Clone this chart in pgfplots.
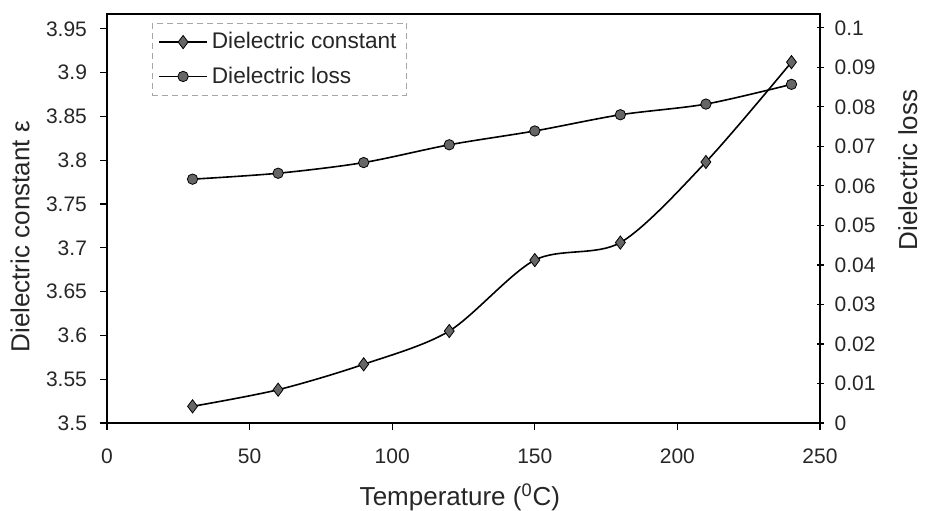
\documentclass[border=0pt]{standalone}
\usepackage{fontspec}
\setmainfont{Liberation Sans}
\usepackage{pgfplots}
\pgfplotsset{compat=1.18}
\usetikzlibrary{calc}

% dielectric constant (left axis) and dielectric loss (right axis) vs temperature
\pgfplotstableread{
T    eps
30   3.519
60   3.538
90   3.567
120  3.605
150  3.686
180  3.706
210  3.798
240  3.912
}\constdata
\pgfplotstableread{
T    loss
30   0.0617
60   0.0632
90   0.0659
120  0.0704
150  0.0739
180  0.0780
210  0.0807
240  0.0857
}\lossdata

\pgfplotsset{
  base/.style={
    width=356.5pt, height=204.5pt, scale only axis,
    xmin=0, xmax=250,
    /pgf/number format/assume math mode=true,
    tick label style={font=\fontsize{10.5}{12}\selectfont, text=black!85},
    label style={font=\fontsize{13}{15}\selectfont, text=black!85},
    major tick length=3.5pt,
    tick style={black, line width=0.6pt},
    axis line style={black, line width=0.8pt},
    scaled y ticks=false,
    yticklabel style={/pgf/number format/fixed, /pgf/number format/precision=2},
  },
  curve/.style={black, line width=0.8pt, smooth,
    mark options={solid, fill=black!60, draw=black, line width=0.4pt}},
  constsym/.style={curve, mark=diamond*, mark size=3.3pt},
  losssym/.style={curve, mark=*, mark size=2.6pt},
}

\begin{document}
\begin{tikzpicture}
\begin{axis}[base,
  ymin=3.5, ymax=3.967,
  ytick={3.5,3.55,3.6,3.65,3.7,3.75,3.8,3.85,3.9,3.95},
  xtick={0,50,100,150,200,250},
  xtick pos=bottom, ytick pos=left,
  tick align=outside,
  xticklabel style={yshift=-6pt},
  yticklabel style={xshift=-3pt},
  xlabel={Temperature (\textsuperscript{0}C)},
  ylabel={Dielectric constant ε},
  x label style={at={(axis description cs:0.495,-0.181)}, anchor=center},
  y label style={at={(axis description cs:-0.122,0.455)}, anchor=center},
  legend style={at={(rel axis cs:0.063,0.978)}, anchor=north west,
    draw=gray!70, densely dashed, fill=white,
    font=\fontsize{11.3}{13}\selectfont, text=black!85,
    inner xsep=3pt, inner ysep=2.5pt, row sep=3.5pt},
  legend cell align=left,
  legend image code/.code={\draw[mark repeat=2, mark phase=2, solid]
    plot coordinates {(0pt,0pt) (12pt,0pt) (24pt,0pt)};},
]
\coordinate (bl) at (rel axis cs:0,0);
\coordinate (tr) at (rel axis cs:1,1);
\addplot[constsym] table[x=T, y=eps] {\constdata};
\addlegendentry{Dielectric constant}
\addlegendimage{losssym}
\addlegendentry{Dielectric loss}
\end{axis}

\begin{axis}[base,
  axis y line*=right, axis x line=none,
  ymin=0, ymax=0.1035,
  ytick={0,0.01,0.02,0.03,0.04,0.05,0.06,0.07,0.08,0.09,0.1},
  tick align=center,
  yticklabel style={xshift=2pt},
  ylabel={Dielectric loss},
  y label style={at={(axis description cs:1.123,0.619)}, anchor=center},
]
\addplot[losssym] table[x=T, y=loss] {\lossdata};
\end{axis}

\pgfresetboundingbox
\path ($(bl)+(-53.5pt,-44pt)$) rectangle ($(tr)+(53pt,7pt)$);
\end{tikzpicture}
\end{document}
